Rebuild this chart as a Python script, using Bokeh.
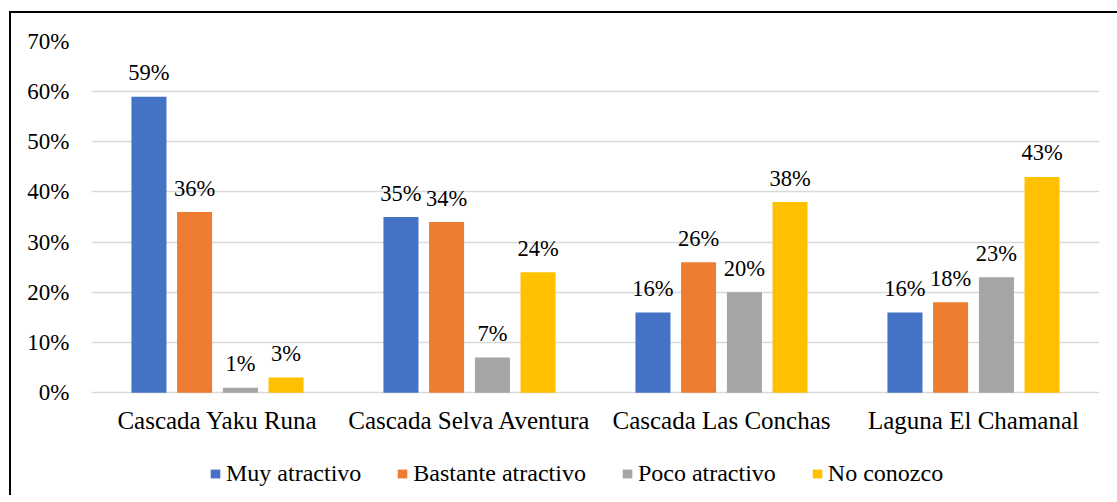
from bokeh.plotting import figure
from bokeh.models import FactorRange, ColumnDataSource, Legend, LegendItem, Range1d, FixedTicker
from bokeh.transform import dodge
from bokeh.core.properties import value
from bokeh.embed import file_html
from bokeh.resources import INLINE

categories = ["Cascada Yaku Runa", "Cascada Selva Aventura", "Cascada Las Conchas", "Laguna El Chamanal"]
series_names = ["Muy atractivo", "Bastante atractivo", "Poco atractivo", "No conozco"]
muy_atractivo = [59, 35, 16, 16]
bastante_atractivo = [36, 34, 26, 18]
poco_atractivo = [1, 7, 20, 23]
no_conozco = [3, 24, 38, 43]
y_ticks = [0, 10, 20, 30, 40, 50, 60, 70]

colors = ["#4472C4", "#ED7D31", "#A5A5A5", "#FFC000"]
FONT = "Liberation Serif"

data = dict(cat=categories)
keys = ["s0", "s1", "s2", "s3"]
for k, vals in zip(keys, [muy_atractivo, bastante_atractivo, poco_atractivo, no_conozco]):
    data[k] = vals
    data[k + "_lbl"] = [f"{v}%" for v in vals]
src = ColumnDataSource(data)

# the frame reaches below 0 so that the category axis and legend share it
p = figure(x_range=FactorRange(*categories), y_range=Range1d(-20.5, 70),
           frame_width=1008, frame_height=454, output_backend="svg", toolbar_location=None,
           min_border_left=80, min_border_right=18, min_border_top=28, min_border_bottom=0)
p.styles = {"border-left": "2px solid black", "border-top": "2px solid black",
            "margin-left": "9px", "margin-top": "11px"}
p.outline_line_color = None
p.xgrid.grid_line_color = None
p.ygrid.grid_line_color = "#D9D9D9"
p.ygrid.grid_line_width = 1.5

p.yaxis.ticker = FixedTicker(ticks=y_ticks)
p.yaxis.major_label_overrides = {t: f"{t}%" for t in y_ticks}
for ax in (p.xaxis, p.yaxis):
    ax.axis_line_color = None
    ax.major_tick_line_color = None
    ax.minor_tick_line_color = None
    ax.major_tick_out = 0
    ax.major_tick_in = 0
    ax.major_label_text_font = FONT
    ax.major_label_text_color = "#000000"
p.yaxis.major_label_text_font_size = "23px"
p.xaxis.major_label_text_font_size = "25px"
p.yaxis.major_label_standoff = 22
p.xaxis.major_label_standoff = 14
p.xaxis.fixed_location = 0
p.x_range.range_padding = 0
p.x_range.group_padding = 0

offsets = [-0.272, -0.091, 0.091, 0.272]
items = []
for k, off, col, name in zip(keys, offsets, colors, series_names):
    r = p.vbar(x=dodge("cat", off, range=p.x_range), top=k, bottom=0, width=0.139, source=src,
               fill_color=col, line_color=None)
    p.text(x=dodge("cat", off, range=p.x_range), y=k, text=k + "_lbl", source=src,
           text_align="center", text_baseline="alphabetic", y_offset=-24,
           text_font=value(FONT), text_font_size="22.5px", text_color="#000000")
    items.append(LegendItem(label=name, renderers=[r]))

legend = Legend(items=items, orientation="horizontal", location=(118, 8),
                label_text_font=FONT, label_text_font_size="24px", label_text_color="#000000",
                glyph_width=12, glyph_height=11, label_standoff=5, spacing=35,
                border_line_color=None, background_fill_alpha=0, margin=0, padding=0)
p.add_layout(legend, "center")

open("out.html", "w").write(file_html(p, INLINE))
